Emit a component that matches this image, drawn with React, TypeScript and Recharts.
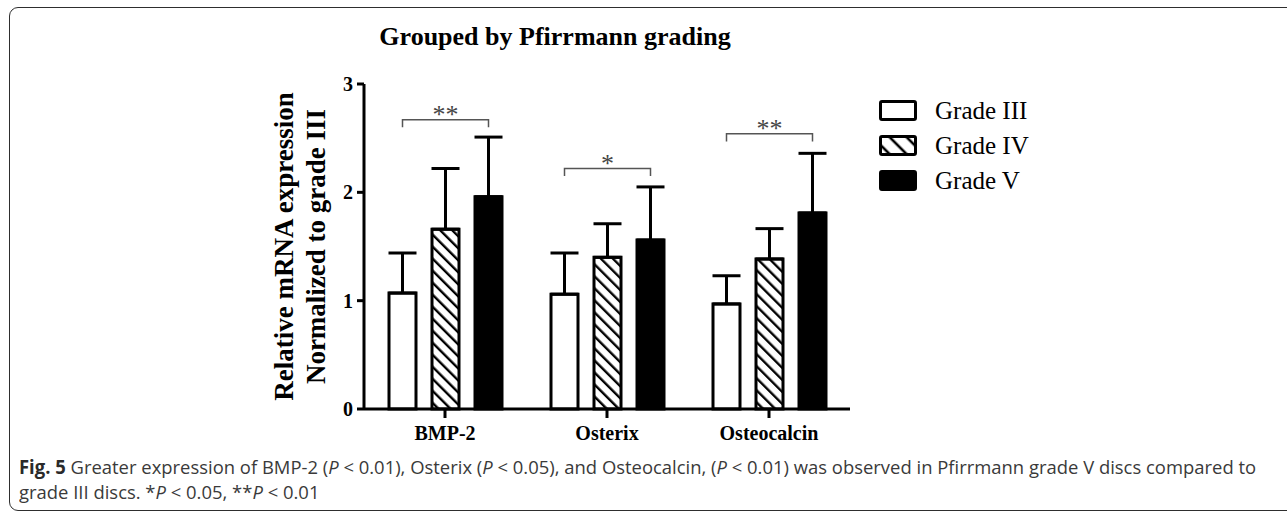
import { BarChart, Bar, XAxis, YAxis, ErrorBar, LabelList } from "recharts";

const genes = ["BMP-2", "Osterix", "Osteocalcin"];
const gradeIII = [1.07, 1.06, 0.97];
const gradeIIISd = [0.37, 0.38, 0.26];
const gradeIV = [1.66, 1.4, 1.385];
const gradeIVSd = [0.56, 0.31, 0.28];
const gradeV = [1.96, 1.56, 1.81];
const gradeVSd = [0.55, 0.49, 0.55];
const yTicks = [0, 1, 2, 3];

// significance brackets: Grade III vs Grade V in each group
const sigLevels = [2.67, 2.22, 2.54];
const sigMarks = ["**", "*", "**"];

const legendItems = [
  { name: "Grade III", fill: "#fff" },
  { name: "Grade IV", fill: "url(#hatchLegend)" },
  { name: "Grade V", fill: "#000" },
];

const data = genes.map((g, i) => ({
  gene: g,
  g3: gradeIII[i],
  g3e: [0, gradeIIISd[i]],
  g4: gradeIV[i],
  g4e: [0, gradeIVSd[i]],
  g5: gradeV[i],
  g5e: [0, gradeVSd[i]],
}));

const serif = "'Liberation Serif', 'Times New Roman', serif";

const BAR = 27;
const GAP = 16;
const drop = 0.07;

// drawn from the Grade III bar: bracket runs to the Grade V bar of the same group
const Bracket = (props: any) => {
  const vb = props.viewBox && props.viewBox.height != null ? props.viewBox : props;
  const { x, y, width, height } = vb;
  const i = props.index;
  if (x == null || i == null) return null;
  const perUnit = height / gradeIII[i];
  const base = y + height;
  const yy = base - sigLevels[i] * perUnit;
  const yd = yy + drop * perUnit;
  const x1 = x + width / 2;
  const x2 = x1 + 2 * (BAR + GAP);
  return (
    <g>
      <path d={`M${x1},${yd}V${yy}H${x2}V${yd}`} fill="none" stroke="#555" strokeWidth={1.5} />
      <text x={(x1 + x2) / 2} y={yy + 3} textAnchor="middle" fontFamily={serif} fontSize={26} fill="#444">
        {sigMarks[i]}
      </text>
    </g>
  );
};

const YTitle = (props: any) => {
  const vb = props.viewBox || { x: 304, y: 84, width: 60, height: 325 };
  const cx = vb.x + vb.width / 2;
  const cy = vb.y + vb.height / 2;
  const x1 = cx - 41;
  const x2 = cx - 9;
  const style = { fontFamily: serif, fontWeight: 700, fontSize: 27, fill: "#000" };
  return (
    <g>
      <text x={x1} y={cy} transform={`rotate(-90, ${x1}, ${cy})`} textAnchor="middle" style={style}>
        Relative mRNA expression
      </text>
      <text x={x2} y={cy} transform={`rotate(-90, ${x2}, ${cy})`} textAnchor="middle" style={style}>
        Normalized to grade III
      </text>
    </g>
  );
};

export default function App() {
  const tickStyle = { fontFamily: serif, fontWeight: 700, fontSize: 20, fill: "#000" };

  return (
    <div style={{ position: "relative", width: 1287, height: 511, overflow: "hidden", background: "#fff" }}>
      <style>{`body{margin:0}`}</style>

      {/* rounded frame */}
      <div
        style={{
          position: "absolute",
          left: 9,
          top: 7,
          width: 1320,
          height: 502,
          border: "1.5px solid #2e2e2e",
          borderRadius: 9,
        }}
      />

      <div
        style={{
          position: "absolute",
          left: 0,
          top: 24,
          width: 1110,
          textAlign: "center",
          fontFamily: serif,
          fontWeight: 700,
          fontSize: 26,
          lineHeight: "26px",
          color: "#000",
        }}
      >
        Grouped by Pfirrmann grading
      </div>

      <div style={{ position: "absolute", left: 0, top: 0 }}>
        <BarChart
          width={1287}
          height={470}
          data={data}
          margin={{ top: 84, right: 437, left: 304, bottom: 21 }}
          barSize={BAR}
          barGap={GAP}
        >
          <defs>
            <pattern id="hatch" width="8.5" height="8.5" patternUnits="userSpaceOnUse" patternTransform="rotate(-45)">
              <rect width="8.5" height="8.5" fill="#fff" />
              <line x1="4" y1="0" x2="4" y2="8.5" stroke="#000" strokeWidth="2.4" />
            </pattern>
          </defs>
          <XAxis
            dataKey="gene"
            tick={tickStyle}
            tickSize={9}
            tickMargin={8}
            height={40}
            axisLine={{ stroke: "#000", strokeWidth: 3 }}
            tickLine={{ stroke: "#000", strokeWidth: 3 }}
          />
          <YAxis
            domain={[0, 3]}
            ticks={yTicks}
            width={60}
            tick={tickStyle}
            tickSize={7}
            tickMargin={4}
            axisLine={{ stroke: "#000", strokeWidth: 3 }}
            tickLine={{ stroke: "#000", strokeWidth: 3 }}
            label={{ content: <YTitle /> }}
          />
          <Bar dataKey="g3" fill="#fff" stroke="#000" strokeWidth={3} isAnimationActive={false}>
            <ErrorBar dataKey="g3e" width={14} stroke="#000" strokeWidth={3} direction="y" />
            <LabelList dataKey="g3" content={<Bracket />} />
          </Bar>
          <Bar dataKey="g4" fill="url(#hatch)" stroke="#000" strokeWidth={3} isAnimationActive={false}>
            <ErrorBar dataKey="g4e" width={14} stroke="#000" strokeWidth={3} direction="y" />
          </Bar>
          <Bar dataKey="g5" fill="#000" stroke="#000" strokeWidth={3} isAnimationActive={false}>
            <ErrorBar dataKey="g5e" width={14} stroke="#000" strokeWidth={3} direction="y" />
          </Bar>
        </BarChart>
      </div>

      {/* legend */}
      <div style={{ position: "absolute", left: 879, top: 93 }}>
        {legendItems.map((it) => (
          <div key={it.name} style={{ display: "flex", alignItems: "center", height: 35 }}>
            <svg width={38} height={21}>
              <defs>
                <pattern id="hatchLegend" width="12" height="12" patternUnits="userSpaceOnUse" patternTransform="rotate(-45)">
                  <rect width="12" height="12" fill="#fff" />
                  <line x1="6" y1="0" x2="6" y2="12" stroke="#000" strokeWidth="2.6" />
                </pattern>
              </defs>
              <rect x={1.5} y={1.5} width={35} height={18} rx={1.5} fill={it.fill} stroke="#000" strokeWidth={3} />
            </svg>
            <span style={{ marginLeft: 18, fontFamily: serif, fontSize: 25, color: "#000" }}>{it.name}</span>
          </div>
        ))}
      </div>

      {/* caption */}
      <div
        style={{
          position: "absolute",
          left: 19,
          top: 455,
          fontFamily: "'Open Sans', sans-serif",
          fontSize: 19,
          lineHeight: "25px",
          color: "#3a3a3a",
          whiteSpace: "nowrap",
          transform: "scaleX(0.97)",
          transformOrigin: "left top",
        }}
      >
        <b style={{ color: "#2a2a2a" }}>Fig. 5</b> Greater expression of BMP-2 (<i>P</i> &lt; 0.01), Osterix (<i>P</i> &lt; 0.05), and
        Osteocalcin, (<i>P</i> &lt; 0.01) was observed in Pfirrmann grade V discs compared to
        <br />
        grade III discs. *<i>P</i> &lt; 0.05, **<i>P</i> &lt; 0.01
      </div>
    </div>
  );
}
